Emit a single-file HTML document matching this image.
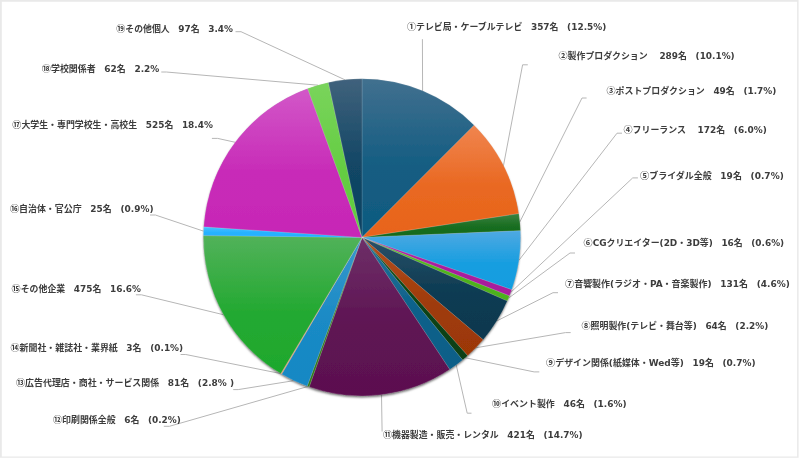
<!DOCTYPE html>
<html lang="ja"><head><meta charset="utf-8"><title>来場者内訳</title>
<style>
html,body{margin:0;padding:0;background:#fff;}
body{width:800px;height:459px;overflow:hidden;position:relative;font-family:"Liberation Sans","Noto Sans CJK JP",sans-serif;}
svg{position:absolute;left:0;top:0;}
text{font-family:"Liberation Sans","Noto Sans CJK JP",sans-serif;font-size:8.8px;font-weight:700;fill:#3c3c3c;white-space:pre;}
.c{font-weight:700;font-size:9.1px;fill:#3a3a3a;}
.s{font-size:8.6px;}
.l{font-family:"DejaVu Sans","Liberation Sans",sans-serif;font-size:8.95px;}
.j{font-size:8.92px;}
.ld{fill:none;stroke:#b6b6b6;stroke-width:1;}
</style></head><body>
<svg width="800" height="459" viewBox="0 0 800 459">
<defs>
<filter id="bl" x="-2%" y="-2%" width="104%" height="104%"><feGaussianBlur stdDeviation="0.4"/></filter>
<filter id="sh" x="-10%" y="-10%" width="120%" height="120%"><feDropShadow dx="0" dy="1.6" stdDeviation="0.9" flood-color="#000" flood-opacity="0.6"/></filter>
<linearGradient id="g1" x1="0" y1="0" x2="0" y2="1"><stop offset="0" stop-color="#41708f"/><stop offset="0.55" stop-color="#155d82"/><stop offset="1" stop-color="#0f5a80"/></linearGradient>
<linearGradient id="g2" x1="0" y1="0" x2="0" y2="1"><stop offset="0" stop-color="#f0854f"/><stop offset="0.55" stop-color="#e96821"/><stop offset="1" stop-color="#e8641b"/></linearGradient>
<linearGradient id="g3" x1="0" y1="0" x2="0" y2="1"><stop offset="0" stop-color="#3a8240"/><stop offset="0.55" stop-color="#196d20"/><stop offset="1" stop-color="#156a1c"/></linearGradient>
<linearGradient id="g4" x1="0" y1="0" x2="0" y2="1"><stop offset="0" stop-color="#4fa9e2"/><stop offset="0.55" stop-color="#189ee0"/><stop offset="1" stop-color="#109de0"/></linearGradient>
<linearGradient id="g5" x1="0" y1="0" x2="0" y2="1"><stop offset="0" stop-color="#b428a8"/><stop offset="0.55" stop-color="#a91d9d"/><stop offset="1" stop-color="#a81c9c"/></linearGradient>
<linearGradient id="g6" x1="0" y1="0" x2="0" y2="1"><stop offset="0" stop-color="#62bd30"/><stop offset="0.55" stop-color="#4fb21e"/><stop offset="1" stop-color="#4cb01c"/></linearGradient>
<linearGradient id="g7" x1="0" y1="0" x2="0" y2="1"><stop offset="0" stop-color="#2a5068"/><stop offset="0.55" stop-color="#0c3b52"/><stop offset="1" stop-color="#08384f"/></linearGradient>
<linearGradient id="g8" x1="0" y1="0" x2="0" y2="1"><stop offset="0" stop-color="#b4501f"/><stop offset="0.55" stop-color="#9f3b09"/><stop offset="1" stop-color="#9c3806"/></linearGradient>
<linearGradient id="g9" x1="0" y1="0" x2="0" y2="1"><stop offset="0" stop-color="#1c5a26"/><stop offset="0.55" stop-color="#0a4314"/><stop offset="1" stop-color="#074012"/></linearGradient>
<linearGradient id="g10" x1="0" y1="0" x2="0" y2="1"><stop offset="0" stop-color="#24729a"/><stop offset="0.55" stop-color="#0d618a"/><stop offset="1" stop-color="#0a5f88"/></linearGradient>
<linearGradient id="g11" x1="0" y1="0" x2="0" y2="1"><stop offset="0" stop-color="#6e3068"/><stop offset="0.55" stop-color="#5e1453"/><stop offset="1" stop-color="#5c1050"/></linearGradient>
<linearGradient id="g12" x1="0" y1="0" x2="0" y2="1"><stop offset="0" stop-color="#3f8a2a"/><stop offset="0.55" stop-color="#317c1a"/><stop offset="1" stop-color="#2f7a18"/></linearGradient>
<linearGradient id="g13" x1="0" y1="0" x2="0" y2="1"><stop offset="0" stop-color="#3a98cc"/><stop offset="0.55" stop-color="#1a8ac5"/><stop offset="1" stop-color="#1688c4"/></linearGradient>
<linearGradient id="g14" x1="0" y1="0" x2="0" y2="1"><stop offset="0" stop-color="#e6b088"/><stop offset="0.55" stop-color="#dd9d6c"/><stop offset="1" stop-color="#dc9a68"/></linearGradient>
<linearGradient id="g15" x1="0" y1="0" x2="0" y2="1"><stop offset="0" stop-color="#52b25a"/><stop offset="0.55" stop-color="#24a932"/><stop offset="1" stop-color="#1ea82c"/></linearGradient>
<linearGradient id="g16" x1="0" y1="0" x2="0" y2="1"><stop offset="0" stop-color="#48c0ff"/><stop offset="0.55" stop-color="#27b2ff"/><stop offset="1" stop-color="#22b0ff"/></linearGradient>
<linearGradient id="g17" x1="0" y1="0" x2="0" y2="1"><stop offset="0" stop-color="#d258c8"/><stop offset="0.55" stop-color="#c82cb8"/><stop offset="1" stop-color="#c726b6"/></linearGradient>
<linearGradient id="g18" x1="0" y1="0" x2="0" y2="1"><stop offset="0" stop-color="#7ad45c"/><stop offset="0.55" stop-color="#65cd43"/><stop offset="1" stop-color="#62cc40"/></linearGradient>
<linearGradient id="g19" x1="0" y1="0" x2="0" y2="1"><stop offset="0" stop-color="#40627c"/><stop offset="0.55" stop-color="#124665"/><stop offset="1" stop-color="#0c4262"/></linearGradient>
</defs>
<path fill="#e9e9e9" fill-rule="evenodd" d="M0,0H798.6V457.8H0Z M1.8,1.8V456.5H797.1V1.8Z"/>
<g filter="url(#bl)">
<g class="ld">
<polyline points="422.4,39.2 422.6,91.0"/>
<polyline points="527.8,64.8 522.6,64.8 503.4,166.0"/>
<polyline points="586.6,98.0 582.0,98.0 519.7,222.2"/>
<polyline points="622.0,133.2 617.0,133.2 518.7,260.6"/>
<polyline points="637.9,177.9 632.7,177.9 510.4,292.7"/>
<polyline points="575.0,253.0 570.0,253.0 508.2,298.4"/>
<polyline points="558.0,292.7 553.0,292.7 496.5,321.1"/>
<polyline points="570.7,332.6 565.5,332.6 475.6,347.8"/>
<polyline points="539.3,371.9 534.1,371.9 465.0,357.7"/>
<polyline points="471.5,413.2 467.2,413.2 456.2,364.8"/>
<polyline points="382.1,431.5 381.5,394.6"/>
<polyline points="163.8,426.3 169.4,426.3 308.2,386.4"/>
<polyline points="233.2,389.6 238.2,389.6 294.2,380.6"/>
<polyline points="180.6,354.5 185.8,354.5 281.3,373.7"/>
<polyline points="135.9,294.8 141.4,294.8 223.8,314.8"/>
<polyline points="150.0,215.0 155.4,215.0 203.7,231.2"/>
<polyline points="211.9,138.4 217.7,138.4 235.3,142.3"/>
<polyline points="161.3,72.0 166.3,72.0 318.0,85.2"/>
<polyline points="235.5,31.7 241.0,31.7 345.1,79.9"/>
</g>
<circle cx="362.0" cy="237.4" r="158.29999999999998" fill="#888" filter="url(#sh)"/>
<g stroke="#ffffff" stroke-opacity="0.28" stroke-width="0.5" stroke-linejoin="round">
<path d="M362.0,237.4 L362.00,78.80 A158.6,158.6 0 0 1 474.12,125.22 Z" fill="url(#g1)"/>
<path d="M362.0,237.4 L474.12,125.22 A158.6,158.6 0 0 1 518.82,213.68 Z" fill="url(#g2)"/>
<path d="M362.0,237.4 L518.82,213.68 A158.6,158.6 0 0 1 520.46,230.69 Z" fill="url(#g3)"/>
<path d="M362.0,237.4 L520.46,230.69 A158.6,158.6 0 0 1 511.73,289.68 Z" fill="url(#g4)"/>
<path d="M362.0,237.4 L511.73,289.68 A158.6,158.6 0 0 1 509.42,295.89 Z" fill="url(#g5)"/>
<path d="M362.0,237.4 L509.42,295.89 A158.6,158.6 0 0 1 507.27,301.04 Z" fill="url(#g6)"/>
<path d="M362.0,237.4 L507.27,301.04 A158.6,158.6 0 0 1 483.20,339.69 Z" fill="url(#g7)"/>
<path d="M362.0,237.4 L483.20,339.69 A158.6,158.6 0 0 1 467.65,355.69 Z" fill="url(#g8)"/>
<path d="M362.0,237.4 L467.65,355.69 A158.6,158.6 0 0 1 462.62,360.00 Z" fill="url(#g9)"/>
<path d="M362.0,237.4 L462.62,360.00 A158.6,158.6 0 0 1 449.72,369.53 Z" fill="url(#g10)"/>
<path d="M362.0,237.4 L449.72,369.53 A158.6,158.6 0 0 1 309.14,386.93 Z" fill="url(#g11)"/>
<path d="M362.0,237.4 L309.14,386.93 A158.6,158.6 0 0 1 307.17,386.22 Z" fill="url(#g12)"/>
<path d="M362.0,237.4 L307.17,386.22 A158.6,158.6 0 0 1 281.67,374.15 Z" fill="url(#g13)"/>
<path d="M362.0,237.4 L281.67,374.15 A158.6,158.6 0 0 1 280.77,373.62 Z" fill="url(#g14)"/>
<path d="M362.0,237.4 L280.77,373.62 A158.6,158.6 0 0 1 203.41,235.57 Z" fill="url(#g15)"/>
<path d="M362.0,237.4 L203.41,235.57 A158.6,158.6 0 0 1 203.75,226.86 Z" fill="url(#g16)"/>
<path d="M362.0,237.4 L203.75,226.86 A158.6,158.6 0 0 1 307.66,88.40 Z" fill="url(#g17)"/>
<path d="M362.0,237.4 L307.66,88.40 A158.6,158.6 0 0 1 328.42,82.40 Z" fill="url(#g18)"/>
<path d="M362.0,237.4 L328.42,82.40 A158.6,158.6 0 0 1 362.00,78.80 Z" fill="url(#g19)"/>
</g>
<g>
<text x="406.9" y="30.4" textLength="199.4" lengthAdjust="spacingAndGlyphs" xml:space="preserve"><tspan class="c">①</tspan><tspan class="j">テレビ局・ケーブルテレビ</tspan><tspan class="s">　</tspan><tspan class="l">357</tspan><tspan class="j">名</tspan><tspan class="s">　</tspan><tspan class="l">(12.5%)</tspan></text>
<text x="558.5" y="59.2" textLength="176.2" lengthAdjust="spacingAndGlyphs" xml:space="preserve"><tspan class="c">②</tspan><tspan class="j">製作プロダクション</tspan><tspan class="s">　</tspan><tspan class="l"> 289</tspan><tspan class="j">名</tspan><tspan class="s">　</tspan><tspan class="l">(10.1%)</tspan></text>
<text x="606.5" y="93.9" textLength="169.9" lengthAdjust="spacingAndGlyphs" xml:space="preserve"><tspan class="c">③</tspan><tspan class="j">ポストプロダクション</tspan><tspan class="s">　</tspan><tspan class="l">49</tspan><tspan class="j">名</tspan><tspan class="s">　</tspan><tspan class="l">(1.7%)</tspan></text>
<text x="623.5" y="132.7" textLength="143.3" lengthAdjust="spacingAndGlyphs" xml:space="preserve"><tspan class="c">④</tspan><tspan class="j">フリーランス</tspan><tspan class="s">　</tspan><tspan class="l"> 172</tspan><tspan class="j">名</tspan><tspan class="s">　</tspan><tspan class="l">(6.0%)</tspan></text>
<text x="640.0" y="179.3" textLength="143.8" lengthAdjust="spacingAndGlyphs" xml:space="preserve"><tspan class="c">⑤</tspan><tspan class="j">ブライダル全般</tspan><tspan class="s">　</tspan><tspan class="l">19</tspan><tspan class="j">名</tspan><tspan class="s">　</tspan><tspan class="l">(0.7%)</tspan></text>
<text x="583.6" y="246.4" textLength="200.6" lengthAdjust="spacingAndGlyphs" xml:space="preserve"><tspan class="c">⑥</tspan><tspan class="l">CG</tspan><tspan class="j">クリエイター</tspan><tspan class="l">(2D</tspan><tspan class="j">・</tspan><tspan class="l">3D</tspan><tspan class="j">等</tspan><tspan class="l">)</tspan><tspan class="s">　</tspan><tspan class="l">16</tspan><tspan class="j">名</tspan><tspan class="s">　</tspan><tspan class="l">(0.6%)</tspan></text>
<text x="565.0" y="286.6" textLength="224.9" lengthAdjust="spacingAndGlyphs" xml:space="preserve"><tspan class="c">⑦</tspan><tspan class="j">音響製作</tspan><tspan class="l">(</tspan><tspan class="j">ラジオ・</tspan><tspan class="l">PA</tspan><tspan class="j">・音楽製作</tspan><tspan class="l">)</tspan><tspan class="s">　</tspan><tspan class="l">131</tspan><tspan class="j">名</tspan><tspan class="s">　</tspan><tspan class="l">(4.6%)</tspan></text>
<text x="581.5" y="329.4" textLength="186.8" lengthAdjust="spacingAndGlyphs" xml:space="preserve"><tspan class="c">⑧</tspan><tspan class="j">照明製作</tspan><tspan class="l">(</tspan><tspan class="j">テレビ・舞台等</tspan><tspan class="l">)</tspan><tspan class="s">　</tspan><tspan class="l">64</tspan><tspan class="j">名</tspan><tspan class="s">　</tspan><tspan class="l">(2.2%)</tspan></text>
<text x="546.1" y="366.2" textLength="209.5" lengthAdjust="spacingAndGlyphs" xml:space="preserve"><tspan class="c">⑨</tspan><tspan class="j">デザイン関係</tspan><tspan class="l">(</tspan><tspan class="j">紙媒体・</tspan><tspan class="l">Wed</tspan><tspan class="j">等</tspan><tspan class="l">)</tspan><tspan class="s">　</tspan><tspan class="l">19</tspan><tspan class="j">名</tspan><tspan class="s">　</tspan><tspan class="l">(0.7%)</tspan></text>
<text x="492.0" y="406.7" textLength="134.6" lengthAdjust="spacingAndGlyphs" xml:space="preserve"><tspan class="c">⑩</tspan><tspan class="j">イベント製作</tspan><tspan class="s">　</tspan><tspan class="l">46</tspan><tspan class="j">名</tspan><tspan class="s">　</tspan><tspan class="l">(1.6%)</tspan></text>
<text x="383.0" y="437.5" textLength="199.5" lengthAdjust="spacingAndGlyphs" xml:space="preserve"><tspan class="c">⑪</tspan><tspan class="j">機器製造・販売・レンタル</tspan><tspan class="s">　</tspan><tspan class="l">421</tspan><tspan class="j">名</tspan><tspan class="s">　</tspan><tspan class="l">(14.7%)</tspan></text>
<text x="53.0" y="423.0" textLength="127.9" lengthAdjust="spacingAndGlyphs" xml:space="preserve"><tspan class="c">⑫</tspan><tspan class="j">印刷関係全般</tspan><tspan class="s">　</tspan><tspan class="l">6</tspan><tspan class="j">名</tspan><tspan class="s">　</tspan><tspan class="l">(0.2%)</tspan></text>
<text x="16.0" y="385.6" textLength="218.0" lengthAdjust="spacingAndGlyphs" xml:space="preserve"><tspan class="c">⑬</tspan><tspan class="j">広告代理店・商社・サービス関係</tspan><tspan class="s">　</tspan><tspan class="l">81</tspan><tspan class="j">名</tspan><tspan class="s">　</tspan><tspan class="l">(2.8% )</tspan></text>
<text x="10.5" y="350.8" textLength="172.7" lengthAdjust="spacingAndGlyphs" xml:space="preserve"><tspan class="c">⑭</tspan><tspan class="j">新聞社・雑誌社・業界紙</tspan><tspan class="s">　</tspan><tspan class="l">3</tspan><tspan class="j">名</tspan><tspan class="s">　</tspan><tspan class="l">(0.1%)</tspan></text>
<text x="11.6" y="291.5" textLength="129.4" lengthAdjust="spacingAndGlyphs" xml:space="preserve"><tspan class="c">⑮</tspan><tspan class="j">その他企業</tspan><tspan class="s">　</tspan><tspan class="l">475</tspan><tspan class="j">名</tspan><tspan class="s">　</tspan><tspan class="l">16.6%</tspan></text>
<text x="9.9" y="211.8" textLength="143.6" lengthAdjust="spacingAndGlyphs" xml:space="preserve"><tspan class="c">⑯</tspan><tspan class="j">自治体・官公庁</tspan><tspan class="s">　</tspan><tspan class="l">25</tspan><tspan class="j">名</tspan><tspan class="s">　</tspan><tspan class="l">(0.9%)</tspan></text>
<text x="12.3" y="127.9" textLength="200.6" lengthAdjust="spacingAndGlyphs" xml:space="preserve"><tspan class="c">⑰</tspan><tspan class="j">大学生・専門学校生・高校生</tspan><tspan class="s">　</tspan><tspan class="l">525</tspan><tspan class="j">名</tspan><tspan class="s">　</tspan><tspan class="l">18.4%</tspan></text>
<text x="41.8" y="71.8" textLength="117.5" lengthAdjust="spacingAndGlyphs" xml:space="preserve"><tspan class="c">⑱</tspan><tspan class="j">学校関係者</tspan><tspan class="s">　</tspan><tspan class="l">62</tspan><tspan class="j">名</tspan><tspan class="s">　</tspan><tspan class="l">2.2%</tspan></text>
<text x="116.2" y="31.9" textLength="116.8" lengthAdjust="spacingAndGlyphs" xml:space="preserve"><tspan class="c">⑲</tspan><tspan class="j">その他個人</tspan><tspan class="s">　</tspan><tspan class="l">97</tspan><tspan class="j">名</tspan><tspan class="s">　</tspan><tspan class="l">3.4%</tspan></text>
</g>
</g>
</svg></body></html>
